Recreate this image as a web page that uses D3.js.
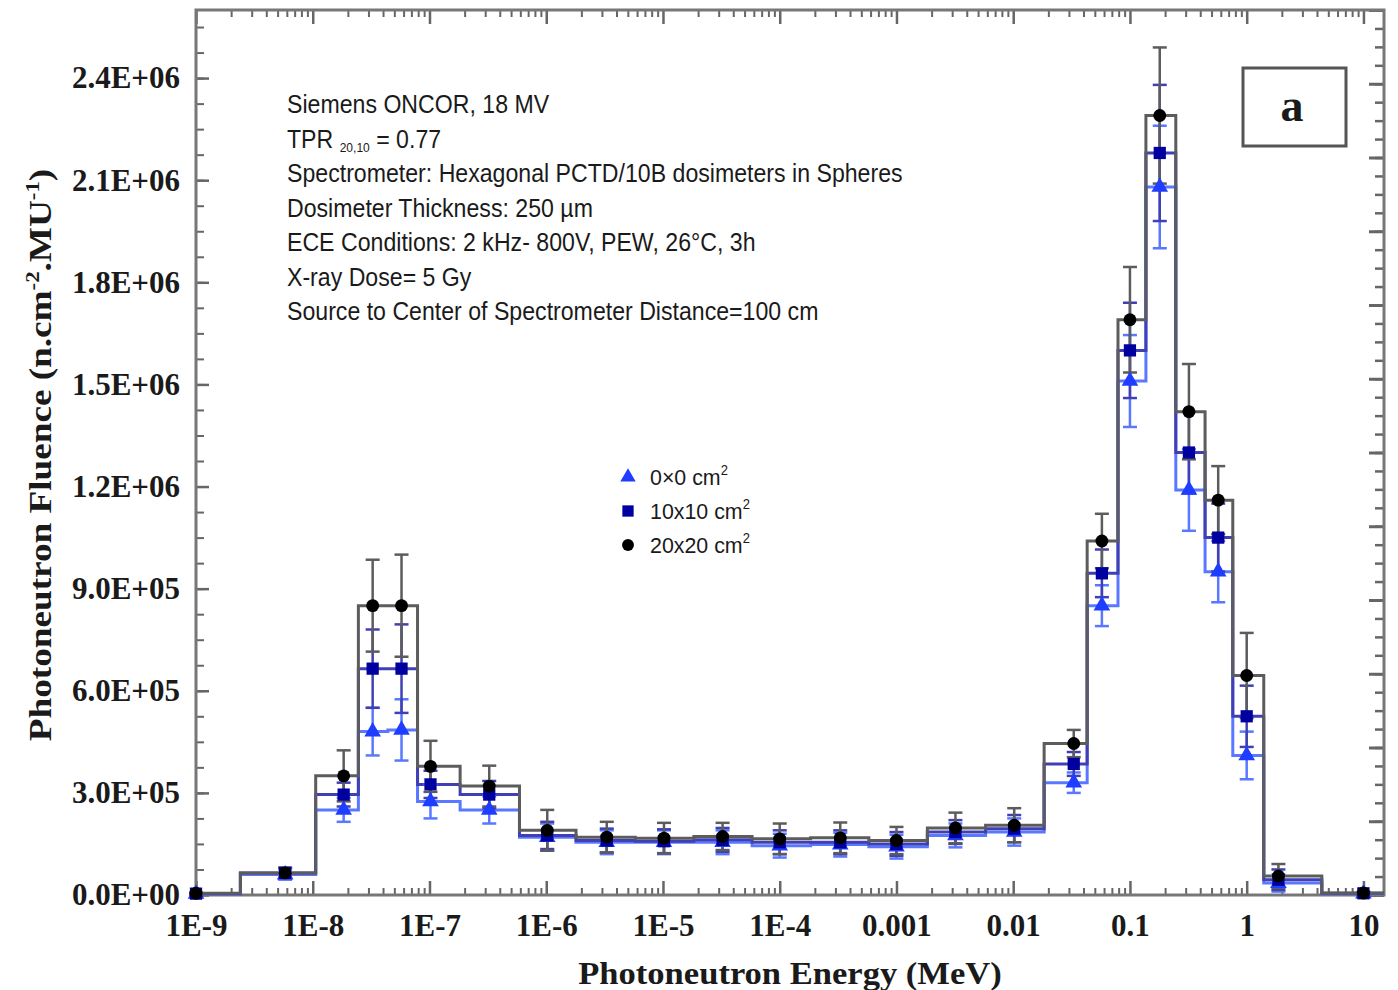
<!DOCTYPE html>
<html>
<head>
<meta charset="utf-8">
<script src="https://cdnjs.cloudflare.com/ajax/libs/d3/7.8.5/d3.min.js"></script>
<style>
body { margin: 0; background: #fff; }
.serif { font-family: "Liberation Serif", "Times New Roman", serif; font-weight: bold; fill: #1a1a1a; }
.note { font-family: "Liberation Sans Narrow", "Arial Narrow", "Liberation Sans", sans-serif; fill: #1a1a1a; }
</style>
</head>
<body>
<div id="container"></div>
<script>
/* Data */
var binEdges = [1e-9, 2.4e-9, 1.06e-8, 2.46e-8, 4.4e-8, 7.9e-8, 1.83e-7, 5.9e-7, 1.8e-6, 5.8e-6,
	1.84e-5, 5.8e-5, 1.84e-4, 5.8e-4, 1.84e-3, 5.8e-3, 1.84e-2, 4.3e-2, 7.9e-2, 0.137,
	0.247, 0.44, 0.76, 1.4, 4.4, 15];
var energies = [1e-9, 5.8e-9, 1.84e-8, 3.26e-8, 5.76e-8, 1.02e-7, 3.25e-7, 1.02e-6, 3.3e-6, 1.02e-5,
	3.24e-5, 1.0e-4, 3.3e-4, 1.0e-3, 3.2e-3, 1.02e-2, 3.3e-2, 5.75e-2, 0.1, 0.18,
	0.32, 0.57, 1.0, 1.87, 10];

var fluence0 = [3e3, 6e4, 2.5e5, 4.8e5, 4.85e5, 2.75e5, 2.5e5, 1.7e5, 1.55e5, 1.55e5,
	1.55e5, 1.45e5, 1.48e5, 1.42e5, 1.75e5, 1.85e5, 3.3e5, 8.5e5, 1.51e6, 2.08e6,
	1.19e6, 9.5e5, 4.1e5, 3.5e4, 4e3];
var fluence10 = [4e3, 6.5e4, 2.95e5, 6.65e5, 6.65e5, 3.25e5, 2.95e5, 1.75e5, 1.6e5, 1.58e5,
	1.62e5, 1.55e5, 1.55e5, 1.5e5, 1.85e5, 1.95e5, 3.85e5, 9.45e5, 1.6e6, 2.18e6,
	1.3e6, 1.05e6, 5.25e5, 4.5e4, 5e3];
var fluence20 = [5e3, 6.5e4, 3.5e5, 8.5e5, 8.5e5, 3.78e5, 3.2e5, 1.9e5, 1.7e5, 1.67e5,
	1.72e5, 1.65e5, 1.68e5, 1.6e5, 1.97e5, 2.05e5, 4.45e5, 1.04e6, 1.69e6, 2.29e6,
	1.42e6, 1.16e6, 6.45e5, 5.6e4, 6e3];

var err0 = [2e3, 1.5e4, 3.5e4, 7e4, 9e4, 5e4, 4e4, 4e4, 3.5e4, 3.5e4,
	3.5e4, 3.5e4, 3.5e4, 3.5e4, 3.5e4, 4e4, 3e4, 6e4, 1.35e5, 1.8e5,
	1.2e5, 9e4, 7e4, 2.5e4, 3e3];
var err10 = [2e3, 1.5e4, 3.5e4, 1.15e5, 1.3e5, 4e4, 4e4, 4e4, 3.5e4, 3.5e4,
	3.5e4, 3.5e4, 3.5e4, 3.5e4, 3.5e4, 4e4, 3.5e4, 7e4, 1.4e5, 2e5,
	1.2e5, 1e5, 9e4, 3e4, 3e3];
var err20 = [2e3, 1.5e4, 7.5e4, 1.35e5, 1.5e5, 7.5e4, 6e4, 6e4, 4.5e4, 4.5e4,
	4e4, 4.5e4, 4.5e4, 4e4, 4.5e4, 5e4, 4e4, 8e4, 1.55e5, 2e5,
	1.4e5, 1e5, 1.25e5, 3.5e4, 3e3];

var seriesNames = ['0×0 cm', '10x10 cm', '20x20 cm'];

var xTickValues = [1e-9, 1e-8, 1e-7, 1e-6, 1e-5, 1e-4, 1e-3, 1e-2, 1e-1, 1, 10];
var xTickLabels = ['1E-9', '1E-8', '1E-7', '1E-6', '1E-5', '1E-4', '0.001', '0.01', '0.1', '1', '10'];
var yTickValues = [0, 3e5, 6e5, 9e5, 1.2e6, 1.5e6, 1.8e6, 2.1e6, 2.4e6];
var yTickLabels = ['0.0E+00', '3.0E+05', '6.0E+05', '9.0E+05', '1.2E+06', '1.5E+06', '1.8E+06', '2.1E+06', '2.4E+06'];

var notes = ['Siemens ONCOR, 18 MV', 'TPR', 'Spectrometer: Hexagonal PCTD/10B dosimeters in Spheres',
	'Dosimeter Thickness: 250 µm', 'ECE Conditions: 2 kHz- 800V, PEW, 26°C, 3h',
	'X-ray Dose= 5 Gy', 'Source to Center of Spectrometer Distance=100 cm'];

/* Layout */
var w = 1398, h = 990;
var margin = {left: 196, right: 14, top: 10, bottom: 95};
var width = w - margin.left - margin.right,
	height = h - margin.top - margin.bottom;

var svg = d3.select('#container').append('svg')
	.attr('width', w)
	.attr('height', h);

var chart = svg.append('g')
	.attr('transform', 'translate(' + margin.left + ',' + margin.top + ')');

/* Scales */
var xScale = d3.scaleLog().domain([1e-9, 15]).range([0, width]),
	yScale = d3.scaleLinear().domain([0, 2.6e6]).range([height, 0]),
	yRight = d3.scaleLinear().domain([0, 12]).range([height, 0]);

var minorX = [];
for (var p = -9; p <= 1; p++) {
	for (var m = 2; m <= 9; m++) {
		var v = m * Math.pow(10, p);
		if (v < 15) minorX.push(v);
	}
}
var minorY = d3.range(0, 2.6e6, 7.5e4),
	minorRight = d3.range(0, 12.01, 0.25);

function styleTicks(g, sw) {
	g.select('.domain').remove();
	g.selectAll('.tick line').attr('stroke', '#666').attr('stroke-width', sw);
}

/* Axes (ticks point inward) */
chart.append('g').attr('transform', 'translate(0,' + height + ')')
	.call(d3.axisBottom(xScale).tickValues(minorX).tickSize(-7).tickFormat(''))
	.call(g => styleTicks(g, 2));
chart.append('g').attr('transform', 'translate(0,' + height + ')')
	.call(d3.axisBottom(xScale).tickValues(xTickValues).tickSize(-14).tickPadding(19)
		.tickFormat((d, i) => xTickLabels[i]))
	.call(g => styleTicks(g, 2.5))
	.selectAll('text')
		.attr('class', 'serif')
		.style('font-size', '31px');

chart.append('g')
	.call(d3.axisTop(xScale).tickValues(minorX).tickSize(-7).tickFormat(''))
	.call(g => styleTicks(g, 2));
chart.append('g')
	.call(d3.axisTop(xScale).tickValues(xTickValues).tickSize(-14).tickFormat(''))
	.call(g => styleTicks(g, 2.5));

chart.append('g')
	.call(d3.axisLeft(yScale).tickValues(minorY).tickSize(-8).tickFormat(''))
	.call(g => styleTicks(g, 2));
chart.append('g')
	.call(d3.axisLeft(yScale).tickValues(yTickValues).tickSize(-13).tickPadding(16)
		.tickFormat((d, i) => yTickLabels[i]))
	.call(g => styleTicks(g, 2.5))
	.selectAll('text')
		.attr('class', 'serif')
		.style('font-size', '31px');

chart.append('g').attr('transform', 'translate(' + width + ',0)')
	.call(d3.axisRight(yRight).tickValues(minorRight).tickSize(-9).tickFormat(''))
	.call(g => styleTicks(g, 2.5));
chart.append('g').attr('transform', 'translate(' + width + ',0)')
	.call(d3.axisRight(yRight).tickValues(d3.range(0, 13)).tickSize(-15).tickFormat(''))
	.call(g => styleTicks(g, 3));

/* Frame */
chart.append('rect')
	.attr('width', width)
	.attr('height', height)
	.attr('fill', 'none')
	.attr('stroke', '#777')
	.attr('stroke-width', 3);

/* Series */
var series = [
	{vals: fluence0, errs: err0, line: '#5a78ff', mark: '#1f3dff', type: d3.symbolTriangle, size: 120},
	{vals: fluence10, errs: err10, line: '#4040b4', mark: '#0000a0', type: d3.symbolSquare, size: 150},
	{vals: fluence20, errs: err20, line: '#5c5c5c', mark: '#000', type: d3.symbolCircle, size: 130}
];

var stepLine = d3.line()
	.x(d => xScale(d[0]))
	.y(d => yScale(d[1]))
	.curve(d3.curveStepAfter);

// step outlines, triangles first so black sits on top
series.forEach(function(s) {
	var pts = binEdges.map((e, i) => [e, s.vals[Math.min(i, s.vals.length - 1)]]);
	chart.append('path')
		.datum(pts)
		.attr('d', stepLine)
		.attr('fill', 'none')
		.attr('stroke', s.line)
		.attr('stroke-width', 3);
});

// error bars
series.forEach(function(s) {
	var eb = chart.append('g').attr('stroke', s.line).attr('stroke-width', 2.5);
	energies.forEach(function(e, i) {
		var cx = xScale(e),
			y0 = yScale(Math.max(0, s.vals[i] - s.errs[i])),
			y1 = yScale(s.vals[i] + s.errs[i]);
		eb.append('line').attr('x1', cx).attr('x2', cx).attr('y1', y0).attr('y2', y1);
		eb.append('line').attr('x1', cx - 7).attr('x2', cx + 7).attr('y1', y0).attr('y2', y0);
		eb.append('line').attr('x1', cx - 7).attr('x2', cx + 7).attr('y1', y1).attr('y2', y1);
	});
});

// markers
series.forEach(function(s) {
	chart.append('g').selectAll('path')
		.data(energies)
		.enter().append('path')
		.attr('d', d3.symbol().type(s.type).size(s.size))
		.attr('transform', (d, i) => 'translate(' + xScale(d) + ',' + yScale(s.vals[i]) + ')')
		.attr('fill', s.mark);
});

/* Notes (condensed look) */
var noteG = svg.append('g').attr('class', 'note').style('font-size', '25px');
notes.forEach(function(t, i) {
	var txt = noteG.append('text')
		.attr('transform', 'translate(287,' + (113 + i * 34.5) + ') scale(0.925,1)');
	if (t === 'TPR') {
		txt.append('tspan').text('TPR ');
		txt.append('tspan').text('20,10').style('font-size', '13px').attr('dy', 4);
		txt.append('tspan').text(' = 0.77').attr('dy', -4);
	} else {
		txt.text(t);
	}
});

/* Legend */
var legend = svg.append('g').attr('class', 'note').style('font-size', '23px');
series.forEach(function(s, i) {
	var ly = 477 + i * 34;
	legend.append('path')
		.attr('d', d3.symbol().type(s.type).size(s.size * 0.85))
		.attr('transform', 'translate(628,' + ly + ')')
		.attr('fill', s.mark);
	var t = legend.append('text')
		.attr('transform', 'translate(650,' + (ly + 8) + ') scale(0.93,1)')
		.text(seriesNames[i]);
	t.append('tspan').text('2').style('font-size', '14px').attr('dy', -10);
});

/* Panel label */
svg.append('rect')
	.attr('x', 1243).attr('y', 68)
	.attr('width', 103).attr('height', 78)
	.attr('fill', 'none')
	.attr('stroke', '#555')
	.attr('stroke-width', 3);
svg.append('text')
	.attr('class', 'serif')
	.attr('x', 1292).attr('y', 121)
	.attr('text-anchor', 'middle')
	.style('font-size', '46px')
	.text('a');

/* Axis titles */
svg.append('text')
	.attr('class', 'serif')
	.attr('transform', 'translate(790,984) scale(1.08,1)')
	.attr('text-anchor', 'middle')
	.style('font-size', '32px')
	.text('Photoneutron Energy (MeV)');

var yTitle = svg.append('text')
	.attr('class', 'serif')
	.attr('transform', 'translate(51,455) rotate(-90) scale(1.2,1)')
	.attr('text-anchor', 'middle')
	.style('font-size', '31px');
yTitle.append('tspan').text('Photoneutron Fluence (n.cm');
yTitle.append('tspan').text('-2').style('font-size', '19px').attr('dy', -12);
yTitle.append('tspan').text('.MU').attr('dy', 12);
yTitle.append('tspan').text('-1').style('font-size', '19px').attr('dy', -12);
yTitle.append('tspan').text(')').attr('dy', 12);
</script>
</body>
</html>
